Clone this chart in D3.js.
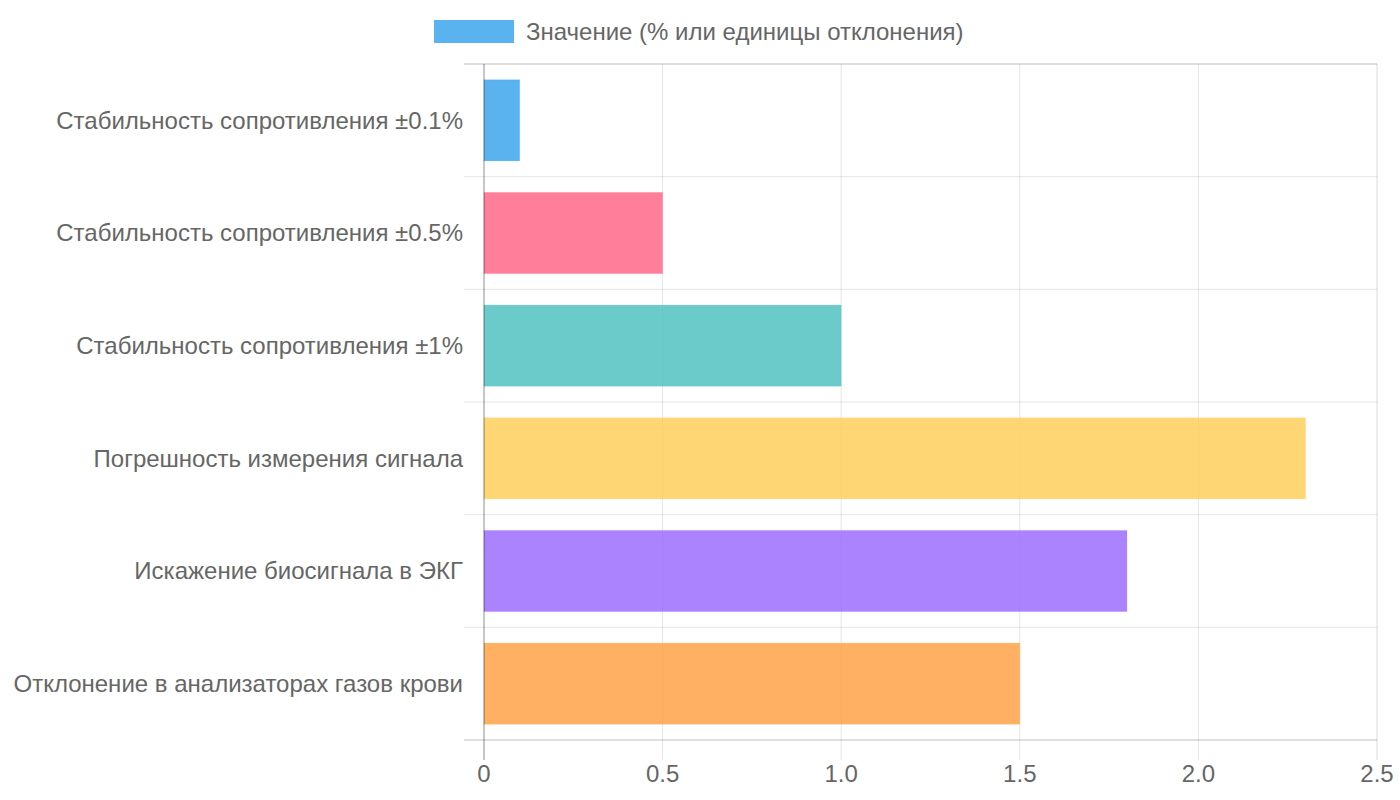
<!DOCTYPE html>
<html>
<head>
<meta charset="utf-8">
<script src="https://cdn.jsdelivr.net/npm/d3@7"></script>
<style>
  body { margin: 0; background: #fff; }
  text { font-family: "Liberation Sans", Arial, sans-serif; fill: #666; }
</style>
</head>
<body>
<svg id="chart" width="1400" height="800"></svg>
<script>
// chart data
const categories = [
  'Стабильность сопротивления ±0.1%',
  'Стабильность сопротивления ±0.5%',
  'Стабильность сопротивления ±1%',
  'Погрешность измерения сигнала',
  'Искажение биосигнала в ЭКГ',
  'Отклонение в анализаторах газов крови'
];
const values = [0.1, 0.5, 1.0, 2.3, 1.8, 1.5];
const colors = ['54,162,235', '255,99,132', '75,192,192', '255,205,86', '153,102,255', '255,159,64'];
const xTicks = [0, 0.5, 1.0, 1.5, 2.0, 2.5];
const seriesLabel = 'Значение (% или единицы отклонения)';

const margin = {top: 64, left: 484, right: 23, bottom: 60};
const width = 1400, height = 800;
const svg = d3.select('#chart');

let x = d3.scaleLinear().domain([0, 2.5]).range([margin.left, width - margin.right]);
let y = d3.scaleBand().domain(categories).range([margin.top, height - margin.bottom]);
let barH = y.bandwidth() * 0.72;

// grid lines
let grid = svg.append('g');
grid.selectAll('.vg')
  .data(xTicks.slice(1)).enter().append('line')
  .attr('x1', d => x(d)).attr('x2', d => x(d))
  .attr('y1', margin.top).attr('y2', height - margin.bottom + 20)
  .style('stroke', (d, i) => i == xTicks.length - 2 ? 'rgba(0,0,0,0.15)' : 'rgba(0,0,0,0.1)')
  .style('stroke-width', 1);
let bounds = categories.map(c => y(c)).concat([height - margin.bottom]);
grid.selectAll('.hg')
  .data(bounds).enter().append('line')
  .attr('x1', margin.left - 20).attr('x2', width - margin.right)
  .attr('y1', d => d).attr('y2', d => d)
  .style('stroke', (d, i) => i == 0 || i == bounds.length - 1 ? 'rgba(0,0,0,0.25)' : 'rgba(0,0,0,0.1)')
  .style('stroke-width', 1);

// bars
svg.append('g').selectAll('rect')
  .data(values).enter().append('rect')
  .attr('x', x(0))
  .attr('y', (d, i) => y(categories[i]) + (y.bandwidth() - barH) / 2)
  .attr('width', d => x(d) - x(0))
  .attr('height', barH)
  .style('fill', (d, i) => 'rgba(' + colors[i] + ',0.82)')
  .style('stroke', (d, i) => 'rgba(' + colors[i] + ',0.2)')
  .style('stroke-width', 1);

// zero axis
svg.append('line')
  .attr('x1', x(0)).attr('x2', x(0))
  .attr('y1', margin.top).attr('y2', height - margin.bottom + 20)
  .style('stroke', 'rgba(0,0,0,0.3)').style('stroke-width', 1.5);

// category labels
svg.append('g').selectAll('text')
  .data(categories).enter().append('text')
  .attr('x', margin.left - 21)
  .attr('y', d => y(d) + y.bandwidth() / 2)
  .attr('dy', '0.35em')
  .attr('text-anchor', 'end')
  .style('font-size', '24px')
  .text(d => d);

// x tick labels
svg.append('g').selectAll('text')
  .data(xTicks).enter().append('text')
  .attr('x', d => x(d))
  .attr('y', height - margin.bottom + 42)
  .attr('text-anchor', 'middle')
  .style('font-size', '24px')
  .text(d => d === 0 ? '0' : d.toFixed(1));

// legend
let legend = svg.append('g');
legend.append('rect')
  .attr('x', 434).attr('y', 20).attr('width', 80).attr('height', 23)
  .style('fill', 'rgba(' + colors[0] + ',0.82)');
legend.append('text')
  .attr('x', 526).attr('y', 32).attr('dy', '0.35em')
  .style('font-size', '24px')
  .text(seriesLabel);
</script>
</body>
</html>
